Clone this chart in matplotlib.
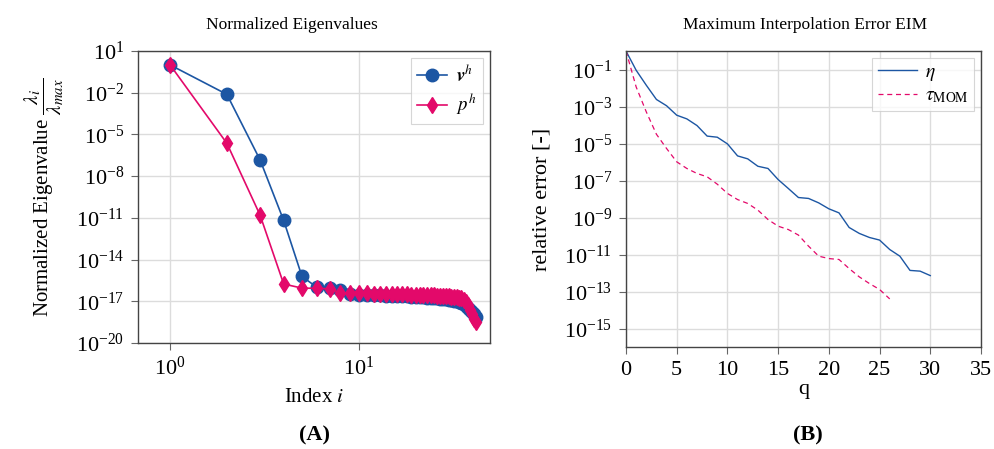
import numpy as np
import matplotlib
matplotlib.use("Agg")
import matplotlib.pyplot as plt
from matplotlib.ticker import FixedLocator, LogFormatterSciNotation, NullLocator

plt.rcParams['font.family'] = ['Liberation Serif', 'DejaVu Serif']
plt.rcParams['mathtext.fontset'] = 'stix'

# ---------------- data: panel (A) ----------------
index_i = np.arange(1, 43)
# log10 of normalized eigenvalues
log_eig_v = [0.0, -2.12, -6.84, -11.19, -15.21, -16.00, -16.05, -16.17, -16.50, -16.53,
             -16.55, -16.57, -16.58, -16.60, -16.61, -16.62, -16.63, -16.64, -16.66, -16.67,
             -16.69, -16.71, -16.73, -16.75, -16.77, -16.79, -16.81, -16.83, -16.86, -16.89,
             -16.92, -16.96, -17.00, -17.06, -17.13, -17.22, -17.35, -17.50, -17.65, -17.80,
             -17.95, -18.10]
log_eig_p = [0.0, -5.64, -10.81, -15.76, -16.05, -16.07, -16.10, -16.40, -16.42, -16.43,
             -16.44, -16.45, -16.46, -16.47, -16.48, -16.49, -16.50, -16.51, -16.52, -16.53,
             -16.54, -16.55, -16.56, -16.57, -16.58, -16.59, -16.60, -16.61, -16.62, -16.64,
             -16.66, -16.68, -16.70, -16.73, -16.78, -16.88, -17.05, -17.30, -17.60, -17.95,
             -18.25, -18.50]
eig_v = 10.0 ** np.array(log_eig_v)
eig_p = 10.0 ** np.array(log_eig_p)

# ---------------- data: panel (B) ----------------
q_eta = np.arange(0, 31)
log_eta = [0.0, -1.04, -1.85, -2.62, -2.96, -3.47, -3.67, -4.03, -4.60, -4.66,
           -5.02, -5.67, -5.83, -6.23, -6.35, -6.95, -7.43, -7.92, -7.97, -8.21,
           -8.53, -8.75, -9.54, -9.86, -10.08, -10.22, -10.73, -11.09, -11.86, -11.90,
           -12.14]
q_tau = np.arange(0, 27)
log_tau = [0.0, -1.94, -3.29, -4.50, -5.27, -5.99, -6.35, -6.62, -6.80, -7.20,
           -7.70, -8.03, -8.24, -8.60, -9.11, -9.47, -9.65, -9.95, -10.55, -11.09,
           -11.22, -11.27, -11.76, -12.21, -12.57, -12.89, -13.40]
eta = 10.0 ** np.array(log_eta)
tau = 10.0 ** np.array(log_tau)

left_yticks = [1e1, 1e-2, 1e-5, 1e-8, 1e-11, 1e-14, 1e-17, 1e-20]
right_yticks = [1e-1, 1e-3, 1e-5, 1e-7, 1e-9, 1e-11, 1e-13, 1e-15]
right_xticks = [0, 5, 10, 15, 20, 25, 30, 35]

blue = '#1c56a3'
pink = '#e3096a'
grid_c = '#dcdcdc'
spine_c = '#444444'

fig = plt.figure(figsize=(9.95, 4.49), dpi=100)
axA = fig.add_axes([138/995, 1-343/449, 352/995, 292/449])
axB = fig.add_axes([626/995, 1-347/449, 355/995, 296/449])

for ax in (axA, axB):
    for s in ax.spines.values():
        s.set_color(spine_c)
        s.set_linewidth(1.0)
    ax.tick_params(direction='out', length=5, width=0.8, color='#666666', labelsize=16, pad=5)
    ax.set_axisbelow(True)

# ---- panel A ----
axA.plot(index_i, eig_v, '-o', color=blue, lw=1.2, ms=9, label=r'$\boldsymbol{v}^h$', zorder=3)
axA.plot(index_i, eig_p, '-d', color=pink, lw=1.2, ms=8, label=r'$p^h$', zorder=4)
axA.set_xscale('log')
axA.set_yscale('log')
axA.set_xlim(0.676, 49.6)
axA.set_ylim(1e-20, 1e1)
axA.yaxis.set_major_locator(FixedLocator(left_yticks))
axA.yaxis.set_major_formatter(LogFormatterSciNotation())
axA.yaxis.set_minor_locator(NullLocator())
axA.xaxis.set_minor_locator(NullLocator())
axA.grid(True, which='major', color=grid_c, lw=1.0)
axA.set_xlabel(r'Index $i$', fontsize=15, labelpad=6)
axA.set_ylabel(r'Normalized Eigenvalue $\dfrac{\lambda_i}{\lambda_{max}}$', fontsize=15, labelpad=7)
legA = axA.legend(loc='upper right', fontsize=13.5, frameon=True, fancybox=False,
                  handlelength=1.6, handletextpad=0.5, borderpad=0.35, labelspacing=0.3,
                  borderaxespad=0.35)
legA.get_frame().set_edgecolor('#cccccc')
legA.get_frame().set_linewidth(0.8)
fig.text(292/995, 1-25/449, 'Normalized Eigenvalues', ha='center', va='center', fontsize=12.5)
fig.text(314/995, 1-435/449, '(A)', ha='center', va='center', fontsize=16, fontweight='bold')

# ---- panel B ----
axB.plot(q_eta, eta, '-', color=blue, lw=1.0, label=r'$\eta$')
axB.plot(q_tau, tau, '--', color=pink, lw=0.9, dashes=(4, 3), label=r'$\tau_{\mathrm{MOM}}$')
axB.set_yscale('log')
axB.set_xlim(0, 35)
axB.set_ylim(1e-16, 1)
axB.set_xticks(right_xticks)
axB.yaxis.set_major_locator(FixedLocator(right_yticks))
axB.yaxis.set_major_formatter(LogFormatterSciNotation())
axB.yaxis.set_minor_locator(NullLocator())
axB.grid(True, which='major', color=grid_c, lw=1.0)
axB.set_xlabel('q', fontsize=16, labelpad=0)
axB.set_ylabel('relative error [-]', fontsize=16, labelpad=9)
legB = axB.legend(loc='upper right', fontsize=14, frameon=True, fancybox=False,
                  handlelength=2.0, handletextpad=0.4, borderpad=0.3, labelspacing=0.2,
                  borderaxespad=0.35)
legB.get_frame().set_edgecolor('#cccccc')
legB.get_frame().set_linewidth(0.8)
fig.text(805/995, 1-25/449, 'Maximum Interpolation Error EIM', ha='center', va='center', fontsize=12.5)
fig.text(808/995, 1-435/449, '(B)', ha='center', va='center', fontsize=16, fontweight='bold')

fig.savefig('out.png', dpi=100)
